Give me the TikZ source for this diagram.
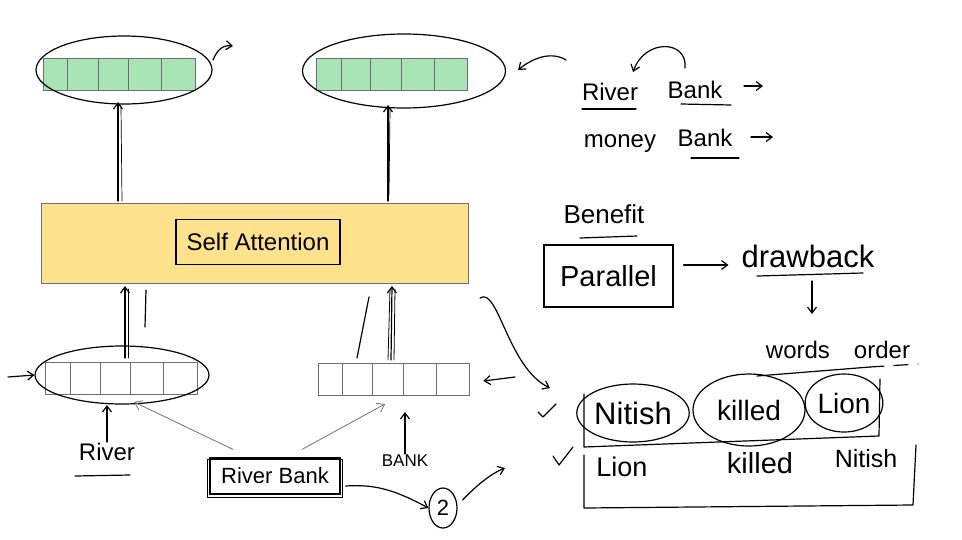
\documentclass[tikz,border=0pt]{standalone}
\usepackage{fontspec}
\setmainfont{Liberation Sans}
\usetikzlibrary{shapes.geometric,arrows.meta,calc}
\definecolor{gfill}{RGB}{168,228,182}
\definecolor{yfill}{RGB}{253,225,140}
\definecolor{cellgray}{RGB}{110,110,110}
\begin{document}
\begin{tikzpicture}[x=1pt,y=-1pt,
  ink/.style={line width=1.2pt, black, line cap=round, line join=round},
  arr/.style={ink,-{Straight Barb[length=6pt,width=9pt]}},
  garr/.style={line width=0.8pt, black!55, line cap=round, -{Straight Barb[length=7pt,width=10pt]}},
  vecbox/.style={draw=cellgray, line width=0.8pt, minimum height=32pt, inner sep=0pt},
  ring/.style={draw, ellipse, line width=1.2pt, inner sep=0pt},
  fs/.style={font=\fontsize{#1}{#1}\selectfont, inner sep=1pt},
]
\useasboundingbox[fill=white] (0,0) rectangle (962,539);

% ---------- vectors ----------
\node[vecbox, fill=gfill, minimum width=152pt] (v1) at (119,74.5) {};
\foreach \f in {0.164,0.362,0.559,0.776}
  \draw[cellgray, line width=0.8pt] ($(v1.north west)!\f!(v1.north east)$) -- ($(v1.south west)!\f!(v1.south east)$);
\node[vecbox, fill=gfill, minimum width=151pt] (v2) at (391.5,74.5) {};
\foreach \f in {0.172,0.364,0.563,0.781}
  \draw[cellgray, line width=0.8pt] ($(v2.north west)!\f!(v2.north east)$) -- ($(v2.south west)!\f!(v2.south east)$);
\node[vecbox, fill=white, minimum width=152pt] (v3) at (121,378.5) {};
\foreach \f in {0.171,0.362,0.559,0.776}
  \draw[cellgray, line width=0.8pt] ($(v3.north west)!\f!(v3.north east)$) -- ($(v3.south west)!\f!(v3.south east)$);
\node[vecbox, fill=white, minimum width=151pt] (v4) at (393.5,379) {};
\foreach \f in {0.166,0.364,0.563,0.781}
  \draw[cellgray, line width=0.8pt] ($(v4.north west)!\f!(v4.north east)$) -- ($(v4.south west)!\f!(v4.south east)$);

% ---------- rings round vectors ----------
\node[ring, minimum width=176pt, minimum height=68pt] (e1) at (124,70) {};
\node[ring, minimum width=203pt, minimum height=74pt] (e2) at (404,71) {};
\node[ring, minimum width=174pt, minimum height=58pt] (e3) at (122,375) {};

% ---------- self attention ----------
\node[draw=cellgray, line width=0.8pt, fill=yfill, minimum width=427pt, minimum height=80pt, inner sep=0pt] (sa) at (254.5,243) {};
\node[draw, line width=1.2pt, minimum width=164pt, minimum height=45pt, fs=24] (sal) at (258,242) {Self Attention};

% arrows up to the outputs
\coordinate (a1) at (118,201); \coordinate (a1e) at (118,102);
\draw[arr] (a1) -- (a1e);
\draw[ink, line width=0.7pt] ($(a1)+(4,0)$) -- ($(a1e)+(3,4)$);
\coordinate (a2) at (388,201); \coordinate (a2e) at (388,105);
\draw[arr] (a2) -- (a2e);
\draw[ink, line width=0.7pt] ($(a2)+(1,-6)$) -- ($(a2e)+(2,4)$);

% arrows from inputs into self attention
\coordinate (b1) at (125,358); \coordinate (b1e) at (125,286);
\draw[arr] (b1) -- (b1e);
\draw[ink, line width=0.8pt] ($(b1)+(3,0)$) -- ($(b1e)+(3,3)$);
\draw[ink] (146,290) -- (145,327);
\coordinate (b2) at (391,360); \coordinate (b2e) at (392,286);
\draw[arr] (b2) -- (b2e);
\draw[ink, line width=0.8pt] ($(b2)+(-3,0)$) -- ($(b2e)+(-2,3)$);
\draw[ink, line width=0.8pt] ($(b2)+(3,0)$) -- ($(b2e)+(3,3)$);
\draw[ink] (357,358) -- (369,297);

% small side arrows
\coordinate (s1) at (8,377);
\draw[arr] (s1) -- (e3.west);
\coordinate (s2) at (515,377);
\draw[arr] (s2) -- ($(v4.east)+(14,2)$);
\coordinate (s3) at (213,60);
\draw[arr] (s3) .. controls (218,48) and (224,45) .. (233,46);

% ---------- inputs ----------
\node[fs=24] (rv) at (107,452) {River};
\draw[ink] (75,476) -- (130,475);
\draw[arr] (rv.north) -- (rv.north |- 0,405);
\node[fs=17] (bk) at (405,461) {BANK};
\draw[arr] (bk.north) -- (bk.north |- 0,412);

\node[draw, line width=1.2pt, minimum width=130pt, minimum height=36pt, fs=22] (rb) at (275,476) {River Bank};
\draw[ink] ($(rb.north west)+(-2,2)$) rectangle ($(rb.south east)+(2,3)$);
\draw[garr] ($(rb.north)+(-42,-8)$) -- (134,402);
\draw[garr] ($(rb.north)+(27,-8)$) -- (385,404);

\node[ring, minimum width=28pt, minimum height=40pt, fs=22] (two) at (443,508) {2};
\draw[arr] ($(rb.east)+(5,10)$) .. controls (375,484) and (395,490) .. (two.west);
\coordinate (tw2) at (505,468);
\draw[arr] ($(two.east)+(5,-8)$) .. controls (475,487) and (490,474) .. (tw2);

% ---------- right side: river bank / money bank ----------
\node[fs=24, anchor=base] (r1) at (610,100) {River};
\draw[ink] (582,109) -- (636,109);
\node[fs=24, anchor=base] (k1) at (695,98) {Bank};
\draw[ink] (681,104) -- (731,105);
\coordinate (k1a) at (744,86); \coordinate (k1b) at (763,86);
\draw[arr] (k1a) -- (k1b);
\draw[arr] (685,68) .. controls (688,40) and (645,38) .. (633,72);

\node[fs=24, anchor=base] (m1) at (620,147) {money};
\node[fs=24, anchor=base] (k2) at (705,146) {Bank};
\draw[ink] (691,158) -- (739,158);
\coordinate (k2a) at (751,137); \coordinate (k2b) at (773,137);
\draw[arr] (k2a) -- (k2b);

\coordinate (c0) at (566,60);
\draw[arr] (c0) .. controls (550,50) and (530,60) .. ($(e2.east)+(12,-1)$);

% ---------- benefit / drawback ----------
\node[fs=26] (bf) at (604,214) {Benefit};
\draw[ink] (580,238) -- (637,236);
\node[draw, line width=1.2pt, minimum width=129pt, minimum height=62pt, fs=29] (par) at (608.5,276) {Parallel};
\node[fs=31] (db) at (808,256) {drawback};
\draw[ink] (757,276) -- (863,273);
\draw[arr] ($(par.east)+(10,-11)$) -- ($(db.west)+(-12,9)$);
\coordinate (dbd) at (812,281);
\draw[arr] (dbd) -- ++(0,33);
\node[fs=24] (wo) at (838,350) {words\hspace{24pt}order};
\draw[ink] (757,376) -- (870,367);
\draw[ink, dashed, dash pattern=on 14pt off 10pt] (870,367) -- (918,364);

% long curved arrow
\coordinate (lc) at (480,298);
\draw[arr] (lc) .. controls (498,286) and (508,368) .. (550,388);

% ---------- word rings ----------
\node[ring, minimum width=104pt, minimum height=58pt, fs=31] (n1) at (633,413) {Nitish};
\node[ring, minimum width=112pt, minimum height=72pt, fs=28] (n2) at (749,410) {killed};
\node[ring, minimum width=72pt, minimum height=58pt, fs=28] (n3) at (844,403) {Lion};
\draw[ink] (584,394) -- (584,447) -- (879,436) -- (880,379);

% checks
\draw[ink] (538,412) -- (543,417) -- (556,404);
\draw[ink] (553,456) -- (559,465) -- (573,447);

% bottom order
\draw[ink] (584,455) -- (584,508) -- (913,505) -- (916,445);
\node[fs=27] (l2) at (622,467) {Lion};
\node[fs=29] (k3) at (760,463) {killed};
\node[fs=25] (n4) at (866,459) {Nitish};
\end{tikzpicture}
\end{document}
